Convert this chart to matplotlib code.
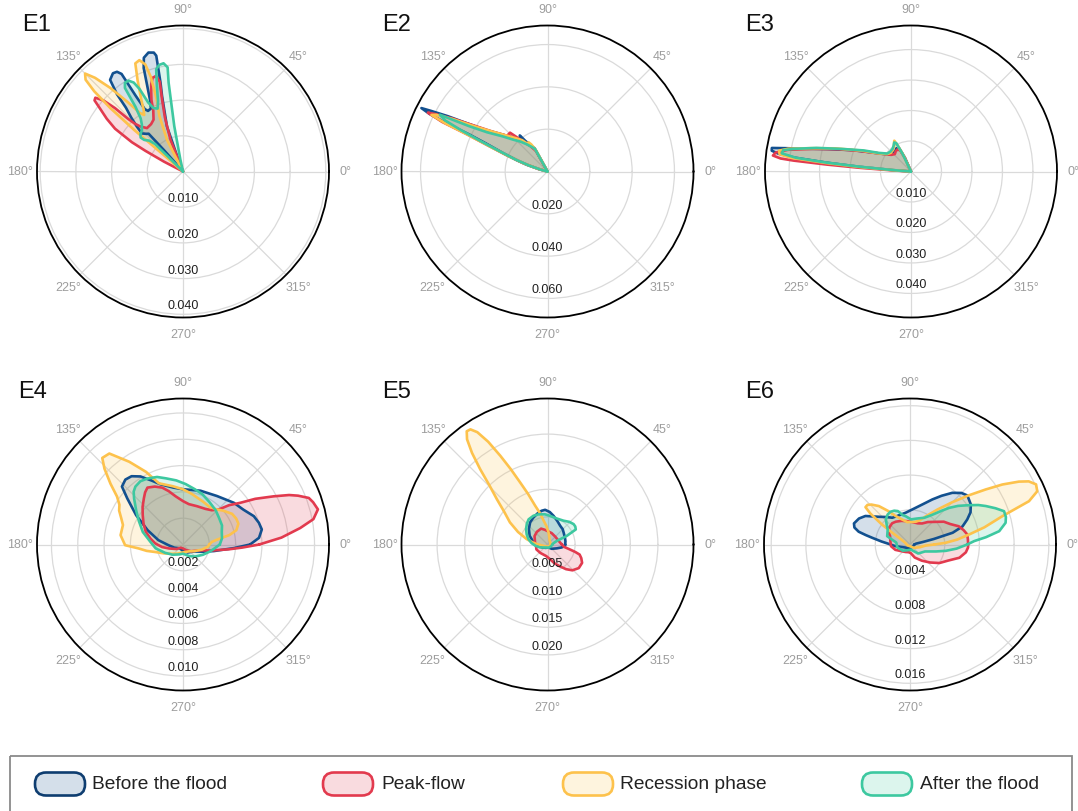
import numpy as np
import matplotlib
matplotlib.use("Agg")
import matplotlib.pyplot as plt
from matplotlib.patches import FancyBboxPatch, Rectangle
from matplotlib.transforms import offset_copy

plt.rcParams['font.family'] = ['Liberation Sans', 'DejaVu Sans']

# ---------------- data ----------------
SERIES = ["Before the flood", "Peak-flow", "Recession phase", "After the flood"]
LINE_COLORS = ["#12508f", "#e23a4e", "#fdc24c", "#3dc8a0"]
LEGEND_EDGE = ["#0e3d70", "#e23a4e", "#fdc24c", "#3dc8a0"]
PANELS = ["E1", "E2", "E3", "E4", "E5", "E6"]
ANGLE_TICKS = [0, 45, 90, 135, 180, 225, 270, 315]
ANGLE_LABELS = ["0°", "45°", "90°", "135°", "180°", "225°", "270°", "315°"]

R_TICKS = {
    "E1": [0.010, 0.020, 0.030, 0.040],
    "E2": [0.020, 0.040, 0.060],
    "E3": [0.010, 0.020, 0.030, 0.040],
    "E4": [0.002, 0.004, 0.006, 0.008, 0.010],
    "E5": [0.005, 0.010, 0.015, 0.020],
    "E6": [0.004, 0.008, 0.012, 0.016],
}
R_LABELS = {
    "E1": ["0.010", "0.020", "0.030", "0.040"],
    "E2": ["0.020", "0.040", "0.060"],
    "E3": ["0.010", "0.020", "0.030", "0.040"],
    "E4": ["0.002", "0.004", "0.006", "0.008", "0.010"],
    "E5": ["0.005", "0.010", "0.015", "0.020"],
    "E6": ["0.004", "0.008", "0.012", "0.016"],
}
R_MAX = {"E1": 0.0409, "E2": 0.069, "E3": 0.0479, "E4": 0.0111, "E5": 0.02645, "E6": 0.01683}

# ---- E1 ----
E1_before_theta = [111, 111, 109.6, 105.5, 104.2, 103, 103.8, 106.2, 109, 110.8, 112.8, 114.8, 117, 120, 121.5, 122, 122.2, 123.5, 125.5, 128.5, 130.5, 131.8, 133.8, 135.8, 137.2, 134.5, 132.3, 131.7, 131]
E1_before_r = [0, 0.0045, 0.0134, 0.022, 0.0257, 0.0333, 0.0343, 0.0347, 0.0337, 0.031, 0.0257, 0.022, 0.0198, 0.0196, 0.0205, 0.0251, 0.0323, 0.0335, 0.0338, 0.0328, 0.0285, 0.024, 0.021, 0.018, 0.0157, 0.0148, 0.0143, 0.0081, 0]
E1_peak_theta = [113, 111.5, 108.5, 106.2, 104.5, 105.8, 108, 110, 111.8, 113.8, 116, 119.6, 124, 129.7, 133.5, 135.2, 136.2, 137, 138.2, 139.9, 141.2, 142.8, 145.3, 147.8, 150.2, 151.2, 152.6, 153.5]
E1_peak_r = [0, 0.0096, 0.016, 0.021, 0.026, 0.0278, 0.0276, 0.026, 0.024, 0.0219, 0.019, 0.0167, 0.016, 0.0158, 0.0174, 0.019, 0.0213, 0.026, 0.0298, 0.0321, 0.0318, 0.0292, 0.026, 0.0225, 0.0165, 0.012, 0.006, 0]
E1_recession_theta = [118, 117, 116.8, 113, 110, 108.8, 109.4, 111.4, 113.8, 116.5, 120.3, 122.5, 124.5, 126.3, 128.6, 131, 133.2, 135, 136.7, 137.9, 138.9, 139.6, 139.5, 138.5]
E1_recession_r = [0, 0.0037, 0.0099, 0.017, 0.0215, 0.028, 0.0318, 0.0335, 0.0331, 0.0285, 0.0231, 0.0205, 0.0192, 0.0203, 0.025, 0.031, 0.036, 0.0388, 0.0375, 0.0335, 0.027, 0.018, 0.009, 0]
E1_after_theta = [103, 102.5, 100.9, 99.2, 98.4, 100.2, 102.6, 104.7, 107, 109.5, 112, 115, 116.8, 117.8, 119, 121, 123.2, 124.8, 126.3, 128.6, 131.2, 135, 139, 141.3, 140.8, 137.5, 135.5, 135, 134]
E1_after_r = [0, 0.0034, 0.0129, 0.0252, 0.0295, 0.0308, 0.0306, 0.0296, 0.025, 0.021, 0.019, 0.0196, 0.0217, 0.0262, 0.0285, 0.0297, 0.0297, 0.0285, 0.0225, 0.019, 0.0175, 0.0163, 0.0158, 0.0152, 0.014, 0.0128, 0.011, 0.006, 0]

# ---- E2 ----
E2_before_theta = [117, 119, 119, 123, 126, 127.5, 129.5, 131, 134, 138, 142, 146, 149, 151, 152.5, 153.3, 154, 154.4, 154.7, 155.5, 157.5, 160, 162, 165, 168]
E2_before_r = [0, 0.006, 0.0126, 0.015, 0.018, 0.0215, 0.0205, 0.019, 0.022, 0.025, 0.029, 0.035, 0.044, 0.054, 0.062, 0.0667, 0.062, 0.055, 0.0406, 0.032, 0.0227, 0.015, 0.0104, 0.004, 0]
E2_peak_theta = [117, 119, 124, 129, 132, 134, 136.5, 137.5, 140, 144, 148, 151, 153, 153.8, 154.8, 155.2, 156.5, 158.5, 161, 164, 167]
E2_peak_r = [0, 0.011, 0.0145, 0.018, 0.022, 0.0255, 0.0255, 0.0235, 0.027, 0.032, 0.041, 0.052, 0.06, 0.063, 0.055, 0.042, 0.030, 0.020, 0.012, 0.005, 0]
E2_recession_theta = [117, 118.5, 121, 123, 125, 129, 134, 139, 144, 148, 151, 153, 154, 154.8, 155.3, 156.5, 158.5, 161, 164, 167]
E2_recession_r = [0, 0.0115, 0.015, 0.0165, 0.0155, 0.019, 0.022, 0.026, 0.032, 0.040, 0.051, 0.059, 0.061, 0.053, 0.041, 0.030, 0.020, 0.012, 0.005, 0]
E2_after_theta = [118, 119, 122, 127, 132, 137, 142, 147, 150, 152.2, 153.5, 154.5, 155.5, 157, 159.5, 162, 165, 167]
E2_after_r = [0, 0.012, 0.0135, 0.016, 0.019, 0.022, 0.027, 0.034, 0.043, 0.0575, 0.054, 0.045, 0.035, 0.025, 0.016, 0.009, 0.003, 0]

# ---- E3 ----
E3_before_theta = [112, 114, 117, 122, 128, 135, 143, 150, 155, 160, 165, 168, 169.5, 170.4, 171.5, 172.3, 173.2, 174, 174.8, 175.7, 176]
E3_before_r = [0, 0.005, 0.0085, 0.009, 0.0085, 0.0088, 0.0093, 0.0118, 0.015, 0.0205, 0.0285, 0.036, 0.042, 0.0463, 0.0462, 0.044, 0.0385, 0.028, 0.0168, 0.0058, 0]
E3_peak_theta = [112, 114, 117, 122, 127, 133, 140, 147, 153, 158, 163, 167, 170, 172, 173.4, 174.3, 174.7, 175.3, 175.9, 176.5, 177]
E3_peak_r = [0, 0.005, 0.0078, 0.0085, 0.0083, 0.0078, 0.0085, 0.0105, 0.0135, 0.018, 0.025, 0.033, 0.041, 0.0448, 0.0456, 0.043, 0.0387, 0.0277, 0.0168, 0.006, 0]
E3_recession_theta = [113, 115, 117, 118.5, 121, 125, 130, 137, 144, 151, 157, 163, 167, 169.5, 171, 172.5, 173.5, 174.3, 175, 175.8, 176]
E3_recession_r = [0, 0.006, 0.0095, 0.0115, 0.0108, 0.0098, 0.0092, 0.009, 0.0097, 0.0123, 0.0175, 0.026, 0.034, 0.041, 0.0438, 0.0435, 0.0395, 0.028, 0.017, 0.006, 0]
E3_after_theta = [113, 115.5, 117.5, 120, 124, 129, 136, 143, 150, 156, 162, 166, 169, 170.5, 172, 173.2, 174, 174.7, 175.5, 176]
E3_after_r = [0, 0.0065, 0.0105, 0.011, 0.0102, 0.0096, 0.0094, 0.0098, 0.0122, 0.017, 0.024, 0.032, 0.039, 0.0425, 0.0428, 0.038, 0.028, 0.017, 0.006, 0]

# ---- E4 ----
E4_before_theta = [0, 5, 10.8, 16, 21.8, 30, 39.4, 55, 72, 90, 100, 110.7, 116, 122, 127, 131.6, 136.5, 140.4, 148, 158, 170, 183, 200, 225, 250, 270, 300, 328, 340, 348, 356]
E4_before_r = [0.0051, 0.0058, 0.0061, 0.006, 0.0058, 0.0053, 0.005, 0.0045, 0.0043, 0.0042, 0.0044, 0.0049, 0.0054, 0.0061, 0.0065, 0.0066, 0.0064, 0.0055, 0.0042, 0.0029, 0.0019, 0.0011, 0.0007, 0.0004, 0.0004, 0.0005, 0.0007, 0.001, 0.0016, 0.0024, 0.0039]
E4_peak_theta = [0, 4, 8, 11, 14.6, 18, 20.3, 23, 25, 28, 32.3, 36, 40.5, 44.5, 50, 57.8, 70, 81.7, 90, 98.6, 105, 110, 116, 122, 126, 130.3, 137, 143.7, 152, 161, 170, 178, 187, 196, 215, 235, 270, 300, 320, 340, 348, 354, 357]
E4_peak_r = [0.0058, 0.0075, 0.009, 0.0101, 0.0106, 0.0104, 0.0102, 0.0095, 0.0089, 0.0078, 0.0065, 0.0054, 0.0046, 0.0038, 0.0034, 0.0032, 0.0031, 0.0031, 0.0033, 0.0037, 0.0042, 0.0046, 0.0049, 0.0051, 0.0049, 0.0046, 0.0042, 0.0038, 0.0034, 0.003, 0.0025, 0.0021, 0.0016, 0.0011, 0.0006, 0.0003, 0.0003, 0.0005, 0.0008, 0.0013, 0.0022, 0.0035, 0.0045]
E4_recession_theta = [0, 5, 8, 11.5, 15, 20.6, 26, 32, 40, 46, 55, 65, 80, 90, 100, 111.5, 117, 123, 129, 133, 136, 140, 144, 148, 152, 157, 162, 171.5, 180.7, 185, 190, 195, 205, 220, 240, 270, 312, 330, 345, 355]
E4_recession_r = [0.002, 0.0022, 0.0026, 0.0036, 0.0042, 0.0045, 0.0045, 0.0044, 0.004, 0.0037, 0.0035, 0.0036, 0.0039, 0.0042, 0.0045, 0.005, 0.0062, 0.0075, 0.0089, 0.009, 0.0083, 0.0072, 0.0062, 0.0057, 0.0055, 0.0051, 0.0048, 0.0048, 0.0044, 0.0034, 0.0028, 0.0022, 0.0016, 0.0011, 0.0008, 0.0006, 0.0007, 0.001, 0.0015, 0.0019]
E4_after_theta = [0, 9, 18, 26, 36, 46.4, 58, 69, 78, 87.5, 96, 104.6, 111, 118.4, 124, 129.4, 133, 136.8, 144, 152, 162.7, 175, 188, 205, 225, 250, 270, 298, 315, 332.6, 345, 352.6]
E4_after_r = [0.0028, 0.003, 0.0031, 0.0033, 0.0034, 0.0036, 0.0038, 0.0041, 0.0043, 0.0046, 0.0049, 0.0052, 0.0055, 0.0057, 0.0058, 0.0057, 0.0055, 0.0051, 0.0044, 0.0038, 0.0032, 0.0025, 0.0021, 0.0015, 0.0011, 0.0008, 0.0007, 0.001, 0.0013, 0.0017, 0.0021, 0.0024]

# ---- E5 ----
E5_before_theta = [0, 10, 21.6, 35, 45, 56, 67, 78, 86, 93.9, 100, 108, 118, 128, 140, 154, 170, 187, 210, 240, 290, 315, 337, 348, 355.7]
E5_before_r = [0.0032, 0.0033, 0.0034, 0.0036, 0.0039, 0.0041, 0.0046, 0.0053, 0.0059, 0.0063, 0.0062, 0.0059, 0.0055, 0.0051, 0.0044, 0.0036, 0.0026, 0.0019, 0.0011, 0.0007, 0.0006, 0.0011, 0.0018, 0.0026, 0.0032]
E5_peak_theta = [0, 20, 45, 70, 88.6, 100, 112, 130, 147, 170, 190, 204, 230, 263, 280, 290, 299, 307, 314, 323, 332, 338, 342.6, 345, 348, 352, 356]
E5_peak_r = [0.0026, 0.0021, 0.002, 0.0022, 0.0024, 0.0027, 0.0031, 0.003, 0.0028, 0.0023, 0.0021, 0.0022, 0.002, 0.0021, 0.0027, 0.0036, 0.0045, 0.0056, 0.0065, 0.0071, 0.0071, 0.0066, 0.0061, 0.0052, 0.004, 0.003, 0.0028]
E5_recession_theta = [0, 30, 61, 75, 85, 93, 100.4, 104, 107.7, 111, 113.8, 116, 118, 120, 122, 123.8, 125.5, 127.4, 129.5, 131.8, 134.5, 138.2, 143, 149.5, 157, 165.5, 172, 178, 190, 210, 250, 300, 330]
E5_recession_r = [0.0006, 0.0006, 0.0008, 0.0013, 0.0022, 0.0033, 0.0047, 0.006, 0.0074, 0.0098, 0.0123, 0.0152, 0.0182, 0.0215, 0.024, 0.0251, 0.0252, 0.024, 0.0215, 0.0183, 0.015, 0.0123, 0.0098, 0.0079, 0.0058, 0.0039, 0.0027, 0.0019, 0.001, 0.0006, 0.0004, 0.0004, 0.0005]
E5_after_theta = [0, 12, 18, 21, 24, 28, 33, 38, 46, 56, 70, 84.7, 95, 106.5, 116, 126.9, 135, 144, 154, 164, 175, 186, 200, 217, 245, 290, 330]
E5_after_r = [0.0009, 0.0011, 0.0015, 0.0018, 0.0038, 0.0058, 0.006, 0.006, 0.0057, 0.0052, 0.005, 0.0052, 0.0055, 0.0057, 0.0058, 0.0057, 0.0053, 0.0048, 0.0042, 0.0036, 0.0029, 0.0022, 0.0015, 0.0009, 0.0006, 0.0006, 0.0007]

# ---- E6 ----
E6_before_theta = [0, 8, 11, 13, 15.4, 19, 23.6, 28, 33.4, 40.5, 45, 50.7, 57, 63.6, 72, 85, 97.8, 110, 123.5, 131, 138.3, 147.4, 153, 159.4, 163, 166, 168, 170, 174, 178, 186.6, 200, 230, 270, 320]
E6_before_r = [0.0005, 0.0007, 0.0015, 0.0028, 0.0051, 0.0064, 0.0072, 0.0079, 0.0084, 0.0087, 0.0084, 0.0077, 0.0067, 0.0058, 0.0049, 0.0041, 0.0037, 0.0036, 0.0037, 0.0042, 0.0048, 0.0061, 0.0066, 0.0069, 0.0067, 0.0061, 0.0052, 0.0044, 0.0033, 0.0025, 0.0017, 0.0009, 0.0005, 0.0004, 0.0004]
E6_peak_theta = [0, 5, 10, 15, 20.5, 27, 34, 42, 51.7, 60, 70, 85, 95.7, 110, 122, 130, 140, 151, 157, 170, 185, 200, 215.5, 240, 260, 275, 290, 306, 318, 327.7, 337.4, 345, 352, 357]
E6_peak_r = [0.0067, 0.0067, 0.0067, 0.0064, 0.006, 0.0052, 0.0047, 0.0039, 0.0033, 0.0028, 0.0026, 0.0026, 0.0027, 0.0029, 0.0031, 0.0032, 0.0031, 0.0028, 0.0025, 0.0023, 0.0022, 0.0018, 0.0013, 0.001, 0.0009, 0.001, 0.0016, 0.0023, 0.0031, 0.004, 0.0048, 0.0059, 0.0065, 0.0067]
E6_recession_theta = [0, 2.7, 6, 9.6, 13, 17, 20, 22.7, 25.5, 28, 30, 33, 36, 40, 45, 52, 61, 68, 76, 86, 97, 107, 117, 123, 129, 134, 137, 140, 142, 144.5, 147, 151, 160, 200, 270, 320, 345, 356]
E6_recession_r = [0.0028, 0.0041, 0.0055, 0.0069, 0.0088, 0.0111, 0.0146, 0.0159, 0.0161, 0.0155, 0.0145, 0.0127, 0.0108, 0.0088, 0.0069, 0.0051, 0.0037, 0.003, 0.0027, 0.0026, 0.0026, 0.003, 0.0037, 0.0046, 0.0057, 0.0064, 0.0067, 0.0067, 0.0058, 0.004, 0.0022, 0.0011, 0.0006, 0.0003, 0.0002, 0.0006, 0.0012, 0.0018]
E6_after_theta = [0, 3, 5.5, 8.5, 12.8, 16, 19.5, 23, 26.9, 30, 34, 38.8, 43, 47, 53, 61.7, 75, 87.7, 98.7, 104, 110, 115, 121, 127, 134, 140, 146, 160, 172, 193, 220, 250, 280, 312, 335, 345, 350, 355]
E6_after_r = [0.0066, 0.0074, 0.0088, 0.0104, 0.0113, 0.0115, 0.0115, 0.0107, 0.0098, 0.0091, 0.0081, 0.0071, 0.0062, 0.0053, 0.0043, 0.0035, 0.0031, 0.0029, 0.0033, 0.0035, 0.0041, 0.0043, 0.0044, 0.0043, 0.004, 0.0035, 0.0031, 0.0028, 0.0016, 0.0015, 0.0011, 0.0007, 0.0006, 0.0014, 0.0019, 0.0031, 0.0042, 0.0054]

PANEL_DATA = {
    "E1": [(E1_before_theta, E1_before_r), (E1_peak_theta, E1_peak_r), (E1_recession_theta, E1_recession_r), (E1_after_theta, E1_after_r)],
    "E2": [(E2_before_theta, E2_before_r), (E2_peak_theta, E2_peak_r), (E2_recession_theta, E2_recession_r), (E2_after_theta, E2_after_r)],
    "E3": [(E3_before_theta, E3_before_r), (E3_peak_theta, E3_peak_r), (E3_recession_theta, E3_recession_r), (E3_after_theta, E3_after_r)],
    "E4": [(E4_before_theta, E4_before_r), (E4_peak_theta, E4_peak_r), (E4_recession_theta, E4_recession_r), (E4_after_theta, E4_after_r)],
    "E5": [(E5_before_theta, E5_before_r), (E5_peak_theta, E5_peak_r), (E5_recession_theta, E5_recession_r), (E5_after_theta, E5_after_r)],
    "E6": [(E6_before_theta, E6_before_r), (E6_peak_theta, E6_peak_r), (E6_recession_theta, E6_recession_r), (E6_after_theta, E6_after_r)],
}

# ---------------- layout ----------------
W, H = 1078, 812
fig = plt.figure(figsize=(W / 100, H / 100), dpi=100)

overlay = fig.add_axes([0, 0, 1, 1])
overlay.set_xlim(0, W)
overlay.set_ylim(H, 0)
overlay.axis("off")

CENTERS = [(183, 172.5), (547.5, 172.5), (911, 172.5), (183, 545.5), (547.5, 545.5), (910, 545.5)]
TITLE_POS = [(22, 31), (382, 31), (745, 31), (18, 398), (382, 398), (745, 398)]
RADIUS = 146

for i, name in enumerate(PANELS):
    cx, cy = CENTERS[i]
    rect = [(cx - RADIUS) / W, 1 - (cy + RADIUS) / H, 2 * RADIUS / W, 2 * RADIUS / H]
    ax = fig.add_axes(rect, projection="polar")
    ax.set_ylim(0, R_MAX[name])
    ax.set_axisbelow(True)
    ax.set_thetagrids(ANGLE_TICKS, ANGLE_LABELS)
    ax.tick_params(axis="x", colors="#9d9d9d", labelsize=9, pad=1.5)
    ax.set_rticks(R_TICKS[name])
    ax.set_yticklabels([])
    ax.grid(True, color="#dadada", linewidth=0.9)
    ax.spines["polar"].set_color("black")
    ax.spines["polar"].set_linewidth(1.3)

    for (th, rr), col in zip(PANEL_DATA[name], LINE_COLORS):
        t = np.deg2rad(np.asarray(th, float))
        r = np.asarray(rr, float)
        t = np.unwrap(np.append(t, t[0]))
        r = np.append(r, r[0])
        ax.fill(t, r, color=col, alpha=0.18, lw=0)
        ax.plot(t, r, color=col, lw=1.9, solid_joinstyle="round", solid_capstyle="round")

    tr = offset_copy(ax.transData, fig=fig, x=0, y=9, units="dots")
    for tv, lab in zip(R_TICKS[name], R_LABELS[name]):
        ax.text(np.deg2rad(270), tv, lab, transform=tr, ha="center", va="center",
                fontsize=9, color="#1f1f1f", zorder=10)

    tx, ty = TITLE_POS[i]
    overlay.text(tx, ty, name, fontsize=17, color="#111111", ha="left", va="baseline")

# ---------------- legend ----------------
overlay.add_patch(Rectangle((10, 757), 1062, 80, fill=False, ec="#8a8a8a", lw=1.3))
HANDLE_X = [35, 323, 563, 862]
TEXT_X = [92, 381, 620, 920]
for lab, col, ecol, hx, tx in zip(SERIES, LINE_COLORS, LEGEND_EDGE, HANDLE_X, TEXT_X):
    overlay.add_patch(FancyBboxPatch((hx, 773.5), 50, 23, boxstyle="round,pad=0,rounding_size=11",
                                     fc=col, alpha=0.18, lw=0))
    overlay.add_patch(FancyBboxPatch((hx, 773.5), 50, 23, boxstyle="round,pad=0,rounding_size=11",
                                     fill=False, ec=ecol, lw=1.9))
    overlay.text(tx, 785, lab, fontsize=13.8, color="#222222", ha="left", va="center")

fig.savefig("out.png", dpi=100)
